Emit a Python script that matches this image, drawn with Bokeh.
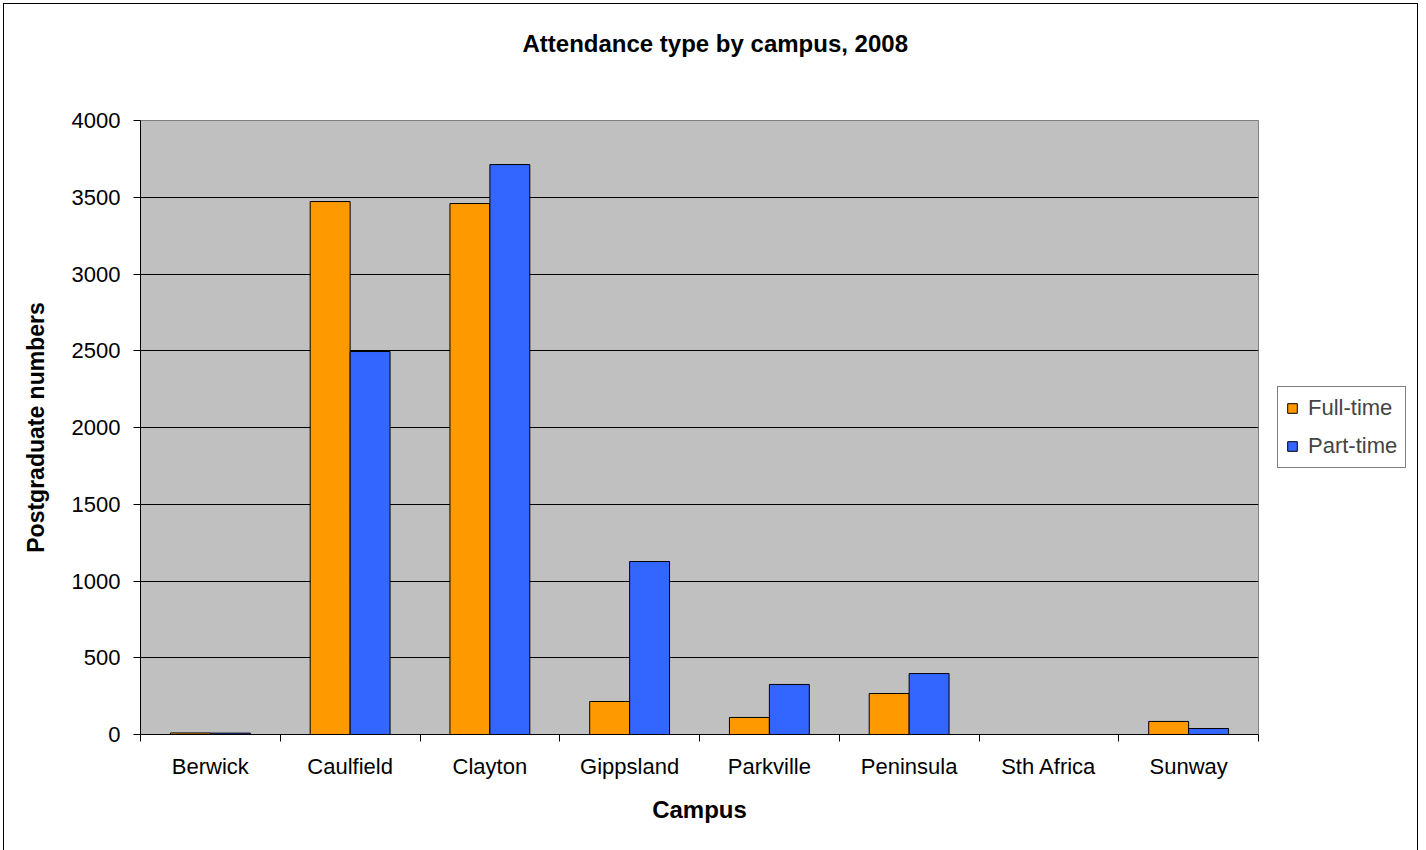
from bokeh.plotting import figure
from bokeh.models import Range1d, FixedTicker, Legend, LegendItem, ColumnDataSource, Title, LinearAxis
from bokeh.embed import file_html
from bokeh.resources import INLINE

campuses = ["Berwick", "Caulfield", "Clayton", "Gippsland", "Parkville", "Peninsula", "Sth Africa", "Sunway"]
full_time = [10, 3472, 3459, 215, 111, 267, 0, 85]
part_time = [9, 2495, 3713, 1127, 326, 397, 0, 39]
y_ticks = [0, 500, 1000, 1500, 2000, 2500, 3000, 3500, 4000]
Y_MAX = 4000

FONT = "Liberation Sans"
FS = "22px"
FSB = "23px"
bar_w = 1 / 3.5

idx = list(range(len(campuses)))
src = ColumnDataSource(dict(
    xf=[i + 0.5 - bar_w / 2 for i in idx],
    xp=[i + 0.5 + bar_w / 2 for i in idx],
    ft=full_time, pt=part_time,
))

p = figure(width=1413, height=845, frame_width=1118, frame_height=614,
           output_backend="svg", toolbar_location=None,
           x_range=Range1d(0, len(campuses)), y_range=Range1d(0, Y_MAX),
           min_border_left=136, min_border_top=116, min_border_right=159, min_border_bottom=115)
p.styles = {"border": "1px solid black", "margin-left": "3px", "margin-top": "3px",
            "width": "1415px", "height": "848px", "overflow": "hidden"}
p.background_fill_color = "#C0C0C0"
p.border_fill_color = "white"
p.outline_line_color = "#808080"
p.outline_line_width = 1

rf = p.vbar(x="xf", top="ft", width=bar_w, source=src, fill_color="#FF9900", line_color="black", line_width=1)
rp = p.vbar(x="xp", top="pt", width=bar_w, source=src, fill_color="#3366FF", line_color="black", line_width=1)

# x axis
p.xaxis.ticker = FixedTicker(ticks=[i + 0.5 for i in idx], minor_ticks=list(range(len(campuses) + 1)))
p.xaxis.major_label_overrides = {i + 0.5: c for i, c in zip(idx, campuses)}
p.xaxis.major_tick_out = 0
p.xaxis.major_tick_in = 0
p.xaxis.minor_tick_out = 7
p.xaxis.minor_tick_in = 0
p.xaxis.minor_tick_line_color = "black"
p.xaxis.axis_line_color = "black"
p.xaxis.major_label_text_font = FONT
p.xaxis.major_label_text_font_size = FS
p.xaxis.major_label_text_color = "black"
p.xaxis.major_label_standoff = 12
p.xaxis.axis_label = "Campus"
p.xaxis.axis_label_text_font = FONT
p.xaxis.axis_label_text_font_size = "24px"
p.xaxis.axis_label_text_font_style = "bold"
p.xaxis.axis_label_text_color = "black"
p.xaxis.axis_label_standoff = 14
p.xgrid.visible = False

# y axis
p.yaxis.ticker = FixedTicker(ticks=y_ticks)
p.yaxis.major_tick_out = 7
p.yaxis.major_tick_in = 0
p.yaxis.minor_tick_line_color = None
p.yaxis.axis_line_color = "black"
p.yaxis.major_label_text_font = FONT
p.yaxis.major_label_text_font_size = FS
p.yaxis.major_label_text_color = "black"
p.yaxis.major_label_standoff = 13
p.yaxis.axis_label = "Postgraduate numbers"
p.yaxis.axis_label_text_font = FONT
p.yaxis.axis_label_text_font_size = FSB
p.yaxis.axis_label_text_font_style = "bold"
p.yaxis.axis_label_text_color = "black"
p.yaxis.axis_label_standoff = 20
p.ygrid.grid_line_color = "black"
p.ygrid.grid_line_width = 1

# invisible spacer between the plot area and the title
mid = len(campuses) / 2
spacer = LinearAxis(ticker=FixedTicker(ticks=[mid], minor_ticks=[]), axis_line_color=None,
                    major_tick_line_color=None, minor_tick_line_color=None,
                    major_tick_out=64, major_tick_in=0, minor_tick_out=0, minor_tick_in=0,
                    major_label_standoff=0, major_label_overrides={mid: ""},
                    major_label_text_font_size="1px")
p.add_layout(spacer, "above")

title = Title(text="Attendance type by campus, 2008", align="left", offset=382, standoff=0,
              text_font=FONT, text_font_size="24px", text_font_style="bold", text_color="black")
p.add_layout(title, "above")

legend = Legend(items=[LegendItem(label="Full-time", renderers=[rf]),
                       LegendItem(label="Part-time", renderers=[rp])],
                location=(19, 266))
legend.label_text_font = FONT
legend.label_text_font_size = FS
legend.glyph_width = 12
legend.glyph_height = 12
legend.label_height = 24
legend.spacing = 12
legend.padding = 8
legend.label_standoff = 10
legend.margin = 0
legend.border_line_color = "black"
legend.border_line_width = 1
legend.background_fill_color = "white"
p.add_layout(legend, "right")

open("out.html", "w").write(file_html(p, INLINE))
